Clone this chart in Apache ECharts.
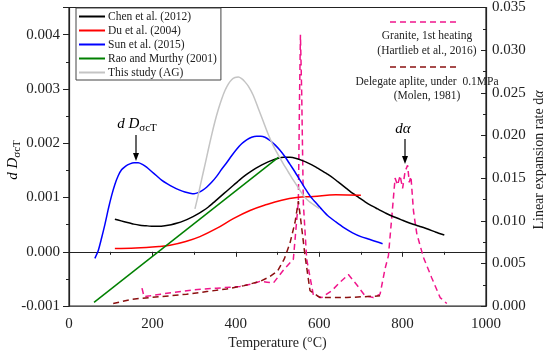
<!DOCTYPE html>
<html>
<head>
<meta charset="utf-8">
<script src="https://cdn.jsdelivr.net/npm/echarts@6/dist/echarts.min.js"></script>
<style>
  html, body { margin: 0; padding: 0; background: #fff; }
  #main { width: 554px; height: 355px; }
</style>
</head>
<body>
<div id="main"></div>
<script>
var myChart = echarts.init(document.getElementById('main'));
var serif = 'Liberation Serif';

// [temperature (°C), dDσcT]  -- left axis
var chenData = [[110,0.0006],[125,0.00057],[140,0.00054],[155,0.00051],[170,0.00049],[185,0.00048],[200,0.00047],[215,0.00047],[230,0.00048],[245,0.0005],[260,0.00053],[275,0.00057],[290,0.00062],[305,0.00068],[320,0.00075],[335,0.00083],[350,0.00093],[365,0.00103],[380,0.00113],[395,0.00123],[410,0.00133],[425,0.00142],[440,0.0015],[455,0.00157],[470,0.00163],[485,0.00168],[500,0.00172],[515,0.00174],[530,0.00174],[545,0.00172],[560,0.00168],[575,0.00163],[590,0.00157],[605,0.0015],[620,0.00143],[635,0.00135],[650,0.00126],[665,0.00117],[680,0.00108],[695,0.001],[710,0.00092],[725,0.00085],[740,0.00079],[760,0.00071],[780,0.00064],[800,0.00058],[820,0.00052],[840,0.00047],[860,0.00042],[880,0.00036],[900,0.00031]];
var duData = [[110,0.00006],[160,0.00007],[218,0.0001],[242,0.00012],[280,0.00019],[314,0.00028],[354,0.00043],[394,0.00061],[434,0.00076],[474,0.00087],[510,0.00095],[546,0.001],[586,0.00102],[640,0.00105],[700,0.00104]];
var sunData = [[62,-0.00012],[70,0.00002],[78,0.00025],[86,0.0005],[94,0.00078],[102,0.00103],[110,0.00124],[118,0.0014],[126,0.00151],[136,0.00158],[146,0.00162],[156,0.00164],[166,0.00164],[176,0.00161],[186,0.00156],[198,0.00148],[210,0.0014],[222,0.00132],[236,0.00125],[250,0.00119],[264,0.00114],[278,0.0011],[290,0.00108],[300,0.00107],[310,0.00109],[320,0.00113],[330,0.00119],[342,0.00128],[354,0.00139],[366,0.00152],[378,0.00164],[390,0.00177],[402,0.00189],[414,0.00199],[426,0.00206],[438,0.00211],[450,0.00213],[460,0.00213],[470,0.00211],[482,0.00205],[494,0.00197],[506,0.00187],[518,0.00175],[530,0.00161],[542,0.00147],[554,0.00132],[566,0.00117],[578,0.00103],[590,0.00092],[604,0.0008],[620,0.00067],[640,0.00055],[660,0.00044],[680,0.00035],[700,0.00028],[720,0.00023],[740,0.00018],[752,0.00015]];
var raoData = [[60,-0.00093],[502,0.00174]];
var agData = [[302,0.00079],[310,0.00105],[318,0.00133],[326,0.0016],[334,0.00188],[342,0.00215],[350,0.0024],[358,0.00262],[366,0.00281],[374,0.00297],[382,0.00309],[390,0.00317],[398,0.00321],[406,0.00322],[414,0.00319],[422,0.00313],[430,0.00305],[442,0.00288],[454,0.00264],[466,0.0024],[478,0.00216],[490,0.00195],[502,0.00178],[514,0.00162],[526,0.00147],[538,0.00132],[550,0.00118],[562,0.00104],[574,0.00094],[588,0.00086],[600,0.0008]];

// [temperature (°C), dα]  -- right axis
var graniteData = [[175,0.0021],[180,0.0011],[194,0.0012],[220,0.0014],[250,0.0016],[298,0.0019],[354,0.0021],[410,0.0023],[440,0.0026],[458,0.0029],[475,0.0028],[490,0.0027],[514,0.0042],[538,0.0055],[550,0.0123],[553,0.025],[555,0.0318],[558,0.025],[562,0.012],[570,0.0055],[586,0.0013],[606,0.001],[630,0.0018],[650,0.0028],[670,0.0037],[690,0.0025],[710,0.0012],[730,0.001],[746,0.0014],[758,0.0044],[766,0.0059],[774,0.0104],[782,0.015],[788,0.0142],[794,0.0153],[800,0.0138],[806,0.0158],[812,0.0165],[816,0.0145],[820,0.0152],[826,0.0112],[830,0.0098],[834,0.0085],[850,0.0057],[870,0.0033],[890,0.001],[906,0.0003]];
var aplite = [[106,0.0003],[150,0.0008],[194,0.001],[240,0.0012],[282,0.0014],[330,0.0017],[378,0.002],[420,0.0024],[458,0.0029],[480,0.0034],[500,0.0041],[516,0.0055],[530,0.0074],[542,0.0098],[550,0.0123],[556,0.01],[566,0.0059],[578,0.0018],[602,0.001],[666,0.001],[746,0.0012]];

var legendNames = ['Chen et al. (2012)', 'Du et al. (2004)', 'Sun et al. (2015)', 'Rao and Murthy (2001)', 'This study (AG)'];
var pink = '#f0168c';
var darkRed = '#8b1010';

function solid(name, data, color, smooth) {
    return {
        name: name, type: 'line', yAxisIndex: 0, data: data,
        showSymbol: false, smooth: smooth, z: 3,
        lineStyle: {color: color, width: 1.5}, itemStyle: {color: color}
    };
}
function dashed(name, data, color) {
    return {
        name: name, type: 'line', yAxisIndex: 1, data: data,
        showSymbol: false, smooth: false, z: 2,
        lineStyle: {color: color, width: 1.5, type: [6, 4]}, itemStyle: {color: color}
    };
}

function arrow(x, y1, y2) {
    return [
        {type: 'line', shape: {x1: x, y1: y1, x2: x, y2: y2 - 6}, style: {stroke: '#000', lineWidth: 1.2}},
        {type: 'polygon', shape: {points: [[x - 3, y2 - 8], [x + 3, y2 - 8], [x, y2]]}, style: {fill: '#000'}}
    ];
}

var graphics = [
    // left axis title
    {type: 'text', x: 13, y: 160, rotation: Math.PI / 2, style: {
        text: '{i|d D}{s|σcT}', align: 'center', verticalAlign: 'middle', fill: '#000',
        rich: {i: {fontFamily: serif, fontSize: 15, fontStyle: 'italic'}, s: {fontFamily: serif, fontSize: 11, padding: [9, 0, 0, 0]}}
    }},
    // right axis title
    {type: 'text', x: 539, y: 160, rotation: Math.PI / 2, style: {
        text: 'Linear expansion rate d{i|α}', align: 'center', verticalAlign: 'middle', fill: '#222',
        fontFamily: serif, fontSize: 14,
        rich: {i: {fontFamily: serif, fontSize: 14, fontStyle: 'italic'}}
    }},
    // annotations
    {type: 'text', x: 137, y: 124, style: {
        text: '{i|d D}{s|σcT}', align: 'center', verticalAlign: 'middle', fill: '#000',
        rich: {i: {fontFamily: serif, fontSize: 15, fontStyle: 'italic'}, s: {fontFamily: serif, fontSize: 11, padding: [9, 0, 0, 0]}}
    }},
    {type: 'text', x: 403, y: 129, style: {
        text: 'dα', align: 'center', verticalAlign: 'middle', fill: '#000',
        fontFamily: serif, fontSize: 15, fontStyle: 'italic'
    }},
    // right legend
    {type: 'line', shape: {x1: 390, y1: 22, x2: 456, y2: 22}, style: {stroke: pink, lineWidth: 1.5, lineDash: [6, 4]}},
    {type: 'text', x: 427, y: 36, style: {text: 'Granite, 1st heating', align: 'center', verticalAlign: 'middle', fill: '#222', fontFamily: serif, fontSize: 11.5}},
    {type: 'text', x: 427, y: 51, style: {text: '(Hartlieb et al., 2016)', align: 'center', verticalAlign: 'middle', fill: '#222', fontFamily: serif, fontSize: 11.5}},
    {type: 'line', shape: {x1: 390, y1: 67, x2: 456, y2: 67}, style: {stroke: darkRed, lineWidth: 1.5, lineDash: [6, 4]}},
    {type: 'text', x: 427, y: 82, style: {text: 'Delegate aplite, under  0.1MPa', align: 'center', verticalAlign: 'middle', fill: '#222', fontFamily: serif, fontSize: 11.5}},
    {type: 'text', x: 427, y: 96, style: {text: '(Molen, 1981)', align: 'center', verticalAlign: 'middle', fill: '#222', fontFamily: serif, fontSize: 11.5}}
].concat(arrow(136, 135, 161), arrow(405, 139, 164));

option = {
    backgroundColor: '#fff',
    animation: false,
    grid: {left: 69, right: 68, top: 6, bottom: 39, show: true, borderColor: '#222', borderWidth: 1.2},
    legend: {
        data: legendNames,
        orient: 'vertical',
        left: 76, top: 8,
        padding: [2, 4, 1, 3],
        itemGap: 1,
        itemWidth: 26, itemHeight: 2,
        icon: 'rect',
        borderColor: '#444', borderWidth: 1,
        textStyle: {fontFamily: serif, fontSize: 11.5, color: '#222', lineHeight: 13, padding: [0, 0, 0, -2]}
    },
    xAxis: {
        type: 'value', min: 0, max: 1000, interval: 200,
        name: 'Temperature (°C)', nameLocation: 'middle', nameGap: 21,
        nameTextStyle: {fontFamily: serif, fontSize: 14, color: '#222'},
        axisLine: {lineStyle: {color: '#222', width: 1.2}},
        axisTick: {length: 5, lineStyle: {color: '#222'}},
        minorTick: {show: true, splitNumber: 2, length: 3, lineStyle: {color: '#222'}},
        splitLine: {show: false},
        axisLabel: {fontFamily: serif, fontSize: 15, color: '#222', margin: 10,
            formatter: function (v) { return String(v); }}
    },
    yAxis: [{
        type: 'value', min: -0.001, max: 0.0045, interval: 0.001,
        axisLine: {show: true, lineStyle: {color: '#222', width: 1.2}},
        axisTick: {show: true, length: 6, lineStyle: {color: '#222'}},
        minorTick: {show: true, splitNumber: 2, length: 3, lineStyle: {color: '#222'}},
        splitLine: {show: false},
        axisLabel: {fontFamily: serif, fontSize: 15, color: '#222', margin: 9,
            formatter: function (v) {
                if (Math.abs(v * 1000 - Math.round(v * 1000)) > 1e-6) return '';
                return v.toFixed(3);
            }}
    }, {
        type: 'value', min: 0, max: 0.035, interval: 0.005, position: 'right',
        axisLine: {show: true, lineStyle: {color: '#222', width: 1.2}},
        axisTick: {show: true, inside: true, length: 5, lineStyle: {color: '#222'}},
        minorTick: {show: true, splitNumber: 2, length: 3, lineStyle: {color: '#222'}},
        splitLine: {show: false},
        axisLabel: {fontFamily: serif, fontSize: 15, color: '#222', margin: 6,
            formatter: function (v) { return v.toFixed(3); }}
    }],
    graphic: graphics,
    series: [
        dashed('Granite, 1st heating (Hartlieb et al., 2016)', graniteData, pink),
        dashed('Delegate aplite, under 0.1MPa (Molen, 1981)', aplite, darkRed),
        solid('Chen et al. (2012)', chenData, '#000', 0.15),
        solid('Du et al. (2004)', duData, '#ff0000', 0.4),
        solid('Sun et al. (2015)', sunData, '#0000ff', 0.25),
        solid('Rao and Murthy (2001)', raoData, '#008000', false),
        solid('This study (AG)', agData, '#c4c4c4', 0.25)
    ]
};
myChart.setOption(option);
</script>
</body>
</html>
